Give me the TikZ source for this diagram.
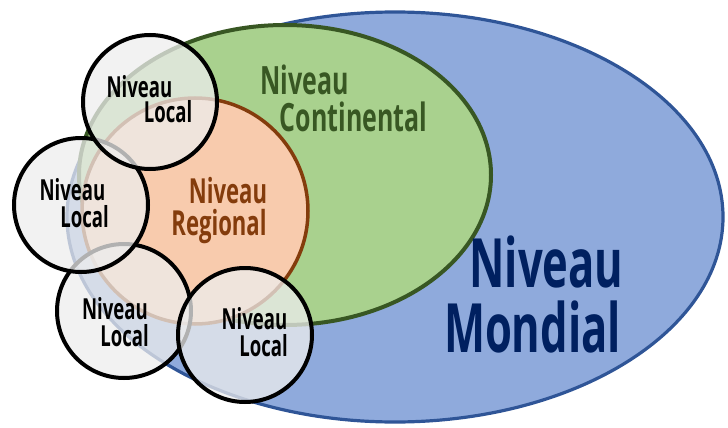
\documentclass[tikz,border=0pt]{standalone}
\usepackage{fontspec}
\newfontfamily\lblfont[FakeStretch=0.64]{Open Sans}
\definecolor{mondialfill}{HTML}{8FAADC}
\definecolor{mondialline}{HTML}{2F5597}
\definecolor{mondialtext}{HTML}{002060}
\definecolor{contfill}{HTML}{A9D18E}
\definecolor{contline}{HTML}{385723}
\definecolor{regfill}{HTML}{F8CBAD}
\definecolor{regline}{HTML}{843C0C}
\definecolor{localfill}{HTML}{EDEDED}
\tikzset{
  localcircle/.style={draw=black, line width=4pt, fill=localfill, fill opacity=0.75},
  lbl/.style={inner sep=0pt, anchor=base, font=\lblfont\bfseries},
}
\begin{document}
\begin{tikzpicture}[x=1pt,y=-1pt]
\useasboundingbox (0,0) rectangle (728,428);
% Niveau Mondial
\draw[fill=mondialfill, draw=mondialline, line width=3.2pt] (395,217) ellipse [x radius=328, y radius=205];
% Niveau Continental
\draw[fill=contfill, draw=contline, line width=4pt] (285,175) ellipse [x radius=206, y radius=150];
% Niveau Regional
\draw[fill=regfill, draw=regline, line width=3.5pt] (195,211) circle [radius=113];
% Local circles
\draw[localcircle] (124,311) circle [radius=67];
\draw[localcircle] (245,335) circle [radius=67];
\draw[localcircle] (81,205) circle [radius=67];
\draw[localcircle] (150,102) circle [radius=67];
% labels
\node[lbl, text=contline, font=\lblfont\bfseries\fontsize{39}{40}\selectfont] (c1) at (304.5,95) {Niveau};
\node[lbl, text=contline, font=\lblfont\bfseries\fontsize{39}{40}\selectfont] (c2) at (353.5,131) {Continental};
\node[lbl, text=regline, font=\lblfont\bfseries\fontsize{34.5}{36}\selectfont] (r1) at (228,203) {Niveau};
\node[lbl, text=regline, font=\lblfont\bfseries\fontsize{34.5}{36}\selectfont] (r2) at (219,235) {Regional};
\node[lbl, text=mondialtext, font=\lblfont\bfseries\fontsize{68}{70}\selectfont] (m1) at (546.5,287) {Niveau};
\node[lbl, text=mondialtext, font=\lblfont\bfseries\fontsize{68}{70}\selectfont] (m2) at (532.5,352) {Mondial};
\node[lbl, font=\lblfont\bfseries\fontsize{29}{30}\selectfont] (la1) at (139.5,97) {Niveau};
\node[lbl, font=\lblfont\bfseries\fontsize{29}{30}\selectfont] (la2) at (168,122) {Local};
\node[lbl, font=\lblfont\bfseries\fontsize{29}{30}\selectfont] (lb1) at (72.5,200) {Niveau};
\node[lbl, font=\lblfont\bfseries\fontsize{29}{30}\selectfont] (lb2) at (84.5,227) {Local};
\node[lbl, font=\lblfont\bfseries\fontsize{29}{30}\selectfont] (lc1) at (115,319) {Niveau};
\node[lbl, font=\lblfont\bfseries\fontsize{29}{30}\selectfont] (lc2) at (124.5,346) {Local};
\node[lbl, font=\lblfont\bfseries\fontsize{29}{30}\selectfont] (ld1) at (254.5,329) {Niveau};
\node[lbl, font=\lblfont\bfseries\fontsize{29}{30}\selectfont] (ld2) at (263.5,356) {Local};
\end{tikzpicture}
\end{document}
